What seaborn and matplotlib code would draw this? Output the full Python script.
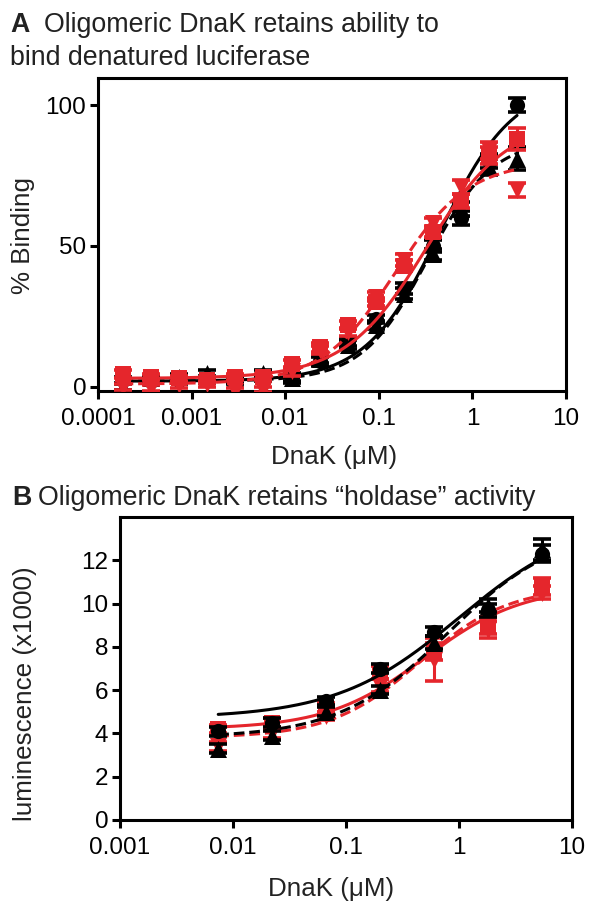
import numpy as np
import pandas as pd
import matplotlib
matplotlib.use("Agg")
import matplotlib.pyplot as plt
import seaborn as sns

sns.set_style("ticks")
plt.rcParams['font.family'] = ['Liberation Sans', 'DejaVu Sans']

RED = '#e5262c'
BLACK = '#000000'

# ---------------- Panel A data ----------------
conc_a = [0.000183, 0.000366, 0.000732, 0.00146, 0.00293, 0.00586, 0.0117,
          0.0234, 0.0469, 0.0938, 0.1875, 0.375, 0.75, 1.5, 3.0]
a_black_circle = [2.5, 2.0, 2.5, 2.5, 2.0, 3.0, 3.5, 9.0, 16.0, 24.0, 35.0, 50.0, 60.0, 80.0, 100.0]
a_black_tri = [0.0, 3.0, 3.5, 5.0, 3.0, 5.0, 3.0, 10.0, 15.0, 22.0, 33.0, 47.0, 63.0, 78.0, 81.0]
a_red_square = [4.5, 3.5, 3.0, 2.5, 3.5, 3.5, 8.0, 14.0, 22.0, 30.0, 43.0, 55.0, 66.0, 82.0, 88.0]
a_red_down = [0.0, -0.5, 0.5, 1.0, -1.5, -1.0, 5.5, 13.0, 19.5, 32.0, 45.0, 58.0, 71.0, 84.0, 70.0]
a_err_black_circle = [1.0, 1.0, 1.0, 1.0, 1.0, 1.0, 1.5, 1.5, 1.5, 1.5, 2.0, 2.0, 2.5, 2.5, 2.5]
a_err_black_tri = [1.0, 1.0, 1.0, 1.0, 1.0, 1.0, 1.5, 1.5, 1.5, 1.5, 2.0, 2.0, 2.5, 3.0, 4.0]
a_err_red_square = [1.5, 1.0, 1.0, 1.0, 1.0, 1.0, 1.5, 1.5, 1.5, 1.5, 2.0, 2.0, 2.5, 3.0, 4.0]
a_err_red_down = [1.0, 1.0, 1.0, 1.0, 1.0, 1.0, 1.5, 1.5, 1.5, 1.5, 2.0, 2.0, 2.5, 3.0, 2.5]
# fitted sigmoid parameters: bottom, top, EC50, hill
a_fit_black_circle = [2.0, 108.0, 0.45, 1.1]
a_fit_black_tri = [2.0, 88.0, 0.33, 1.25]
a_fit_red_square = [3.0, 95.0, 0.32, 1.0]
a_fit_red_down = [1.0, 80.0, 0.15, 1.1]
a_xticks = [0.0001, 0.001, 0.01, 0.1, 1, 10]
a_xticklabels = ['0.0001', '0.001', '0.01', '0.1', '1', '10']
a_yticks = [0, 50, 100]

# ---------------- Panel B data ----------------
conc_b = [0.0074, 0.0222, 0.0667, 0.2, 0.6, 1.8, 5.4]
b_black_circle = [4.1, 4.5, 5.5, 7.0, 8.7, 9.7, 12.3]
b_black_tri = [3.3, 3.9, 5.0, 6.0, 8.2, 9.9, 12.5]
b_red_square = [4.2, 4.5, 5.2, 6.8, 7.8, 9.0, 10.8]
b_red_down = [3.4, 4.0, 4.8, 6.2, 7.4, 8.8, 10.5]
b_err_black_circle = [0.2, 0.2, 0.2, 0.2, 0.2, 0.3, 0.4]
b_err_black_tri = [0.2, 0.2, 0.2, 0.2, 0.3, 0.3, 0.5]
b_err_red_square = [0.2, 0.2, 0.2, 0.3, 0.4, 0.4, 0.4]
b_err_red_down = [0.2, 0.2, 0.2, 0.3, 1.0, 0.4, 0.3]
b_fit_black_circle = [4.7, 14.0, 1.0, 0.8]
b_fit_black_tri = [3.8, 13.5, 0.8, 0.9]
b_fit_red_square = [4.2, 10.8, 0.5, 1.0]
b_fit_red_down = [3.8, 10.8, 0.45, 1.1]
b_xticks = [0.001, 0.01, 0.1, 1, 10]
b_xticklabels = ['0.001', '0.01', '0.1', '1', '10']
b_yticks = [0, 2, 4, 6, 8, 10, 12]

LW = 2.2
TICK_FS = 17.5
LABEL_FS = 18.7
TITLE_FS = 19.3


def fit_curve(params, xmin, xmax):
    bottom, top, ec50, hill = params
    xs = np.logspace(np.log10(xmin), np.log10(xmax), 200)
    ys = bottom + (top - bottom) / (1 + (ec50 / xs) ** hill)
    return pd.DataFrame({'x': xs, 'y': ys})


def draw_series(ax, x, y, err, fit, color, marker, dashed, ms, z):
    curve = fit_curve(fit, min(x), max(x))
    kw = dict(linestyle=(0, (3.5, 1.6))) if dashed else {}
    sns.lineplot(data=curve, x='x', y='y', ax=ax, color=color, linewidth=LW,
                 zorder=z, **kw)
    ax.errorbar(x, y, yerr=err, fmt='none', ecolor=color, elinewidth=2.2,
                capsize=6.5, capthick=2.6, zorder=z)
    df = pd.DataFrame({'x': x, 'y': y})
    sns.scatterplot(data=df, x='x', y='y', ax=ax, color=color, marker=marker,
                    s=ms, edgecolor=color, linewidth=0, zorder=z + 0.5)


def style_axes(ax, xticks, xlabels, yticks, xlim, ylim):
    ax.set_xscale('log')
    ax.set_xlim(*xlim)
    ax.set_ylim(*ylim)
    ax.set_xticks(xticks)
    ax.set_xticklabels(xlabels)
    ax.xaxis.set_minor_locator(matplotlib.ticker.NullLocator())
    ax.set_yticks(yticks)
    ax.set_yticklabels([str(t) for t in yticks])
    for sp in ax.spines.values():
        sp.set_visible(True)
        sp.set_linewidth(2.2)
        sp.set_color('black')
    ax.tick_params(axis='both', direction='out', length=5.5, width=2.2,
                   labelsize=TICK_FS, colors='black')
    ax.tick_params(axis='x', pad=7)
    ax.tick_params(axis='y', pad=3)
    ax.set_xlabel('')
    ax.set_ylabel('')


W, H = 590, 902
fig = plt.figure(figsize=(W / 100, H / 100), dpi=100)

# Panel A
axA = fig.add_axes([98 / W, 1 - 391 / H, 468 / W, 313 / H])
draw_series(axA, conc_a, a_black_circle, a_err_black_circle, a_fit_black_circle, BLACK, 'o', False, 120, 2)
draw_series(axA, conc_a, a_black_tri, a_err_black_tri, a_fit_black_tri, BLACK, '^', True, 150, 3)
draw_series(axA, conc_a, a_red_square, a_err_red_square, a_fit_red_square, RED, 's', False, 120, 4)
draw_series(axA, conc_a, a_red_down, a_err_red_down, a_fit_red_down, RED, 'v', True, 150, 5)
style_axes(axA, a_xticks, a_xticklabels, a_yticks, (0.0001, 10), (-1.5, 109.6))

# Panel B
axB = fig.add_axes([120 / W, 1 - 820 / H, 452 / W, 303 / H])
draw_series(axB, conc_b, b_red_square, b_err_red_square, b_fit_red_square, RED, 's', False, 120, 2)
draw_series(axB, conc_b, b_red_down, b_err_red_down, b_fit_red_down, RED, 'v', True, 150, 3)
draw_series(axB, conc_b, b_black_circle, b_err_black_circle, b_fit_black_circle, BLACK, 'o', False, 120, 4)
draw_series(axB, conc_b, b_black_tri, b_err_black_tri, b_fit_black_tri, BLACK, '^', True, 150, 5)
style_axes(axB, b_xticks, b_xticklabels, b_yticks, (0.001, 10), (0, 14))

TXT = '#222222'
# Titles
fig.text(10 / W, 1 - 25 / H, 'A', fontsize=TITLE_FS, fontweight='bold', ha='left', va='center', color=TXT)
fig.text(44 / W, 1 - 25 / H, 'Oligomeric DnaK retains ability to', fontsize=TITLE_FS, ha='left', va='center', color=TXT)
fig.text(10 / W, 1 - 58 / H, 'bind denatured luciferase', fontsize=TITLE_FS, ha='left', va='center', color=TXT)
fig.text(12 / W, 1 - 498 / H, 'B', fontsize=TITLE_FS, fontweight='bold', ha='left', va='center', color=TXT)
fig.text(38 / W, 1 - 498 / H, 'Oligomeric DnaK retains \u201choldase\u201d activity', fontsize=TITLE_FS, ha='left', va='center', color=TXT)

# Axis labels
fig.text(23 / W, 1 - 235 / H, '% Binding', fontsize=LABEL_FS, rotation=90, ha='center', va='center', color=TXT)
fig.text(334 / W, 1 - 457 / H, 'DnaK (\u03bcM)', fontsize=LABEL_FS, ha='center', va='center', color=TXT)
fig.text(25 / W, 1 - 694 / H, 'luminescence (x1000)', fontsize=LABEL_FS, rotation=90, ha='center', va='center', color=TXT)
fig.text(331 / W, 1 - 889 / H, 'DnaK (\u03bcM)', fontsize=LABEL_FS, ha='center', va='center', color=TXT)

fig.savefig('out.png', dpi=100)
